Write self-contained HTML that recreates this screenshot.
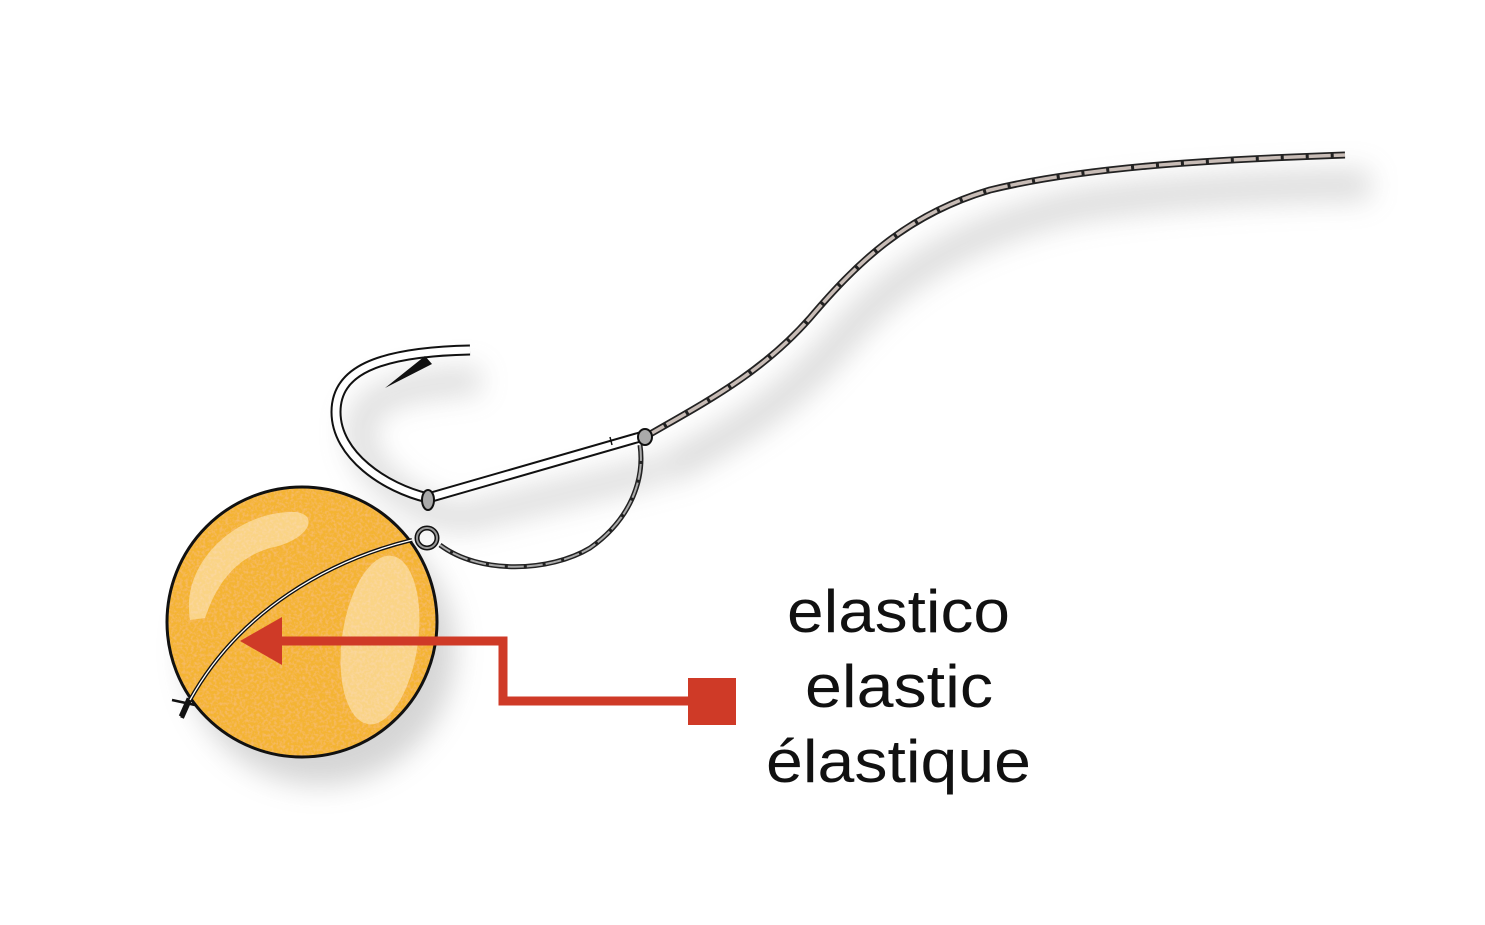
<!DOCTYPE html>
<html><head><meta charset="utf-8"><style>
html,body{margin:0;padding:0;background:#fff;}
svg{display:block}
</style></head><body>
<svg width="1485" height="925" viewBox="0 0 1485 925" xmlns="http://www.w3.org/2000/svg">
<defs>
<filter id="blur" x="-50%" y="-50%" width="200%" height="200%"><feGaussianBlur stdDeviation="14"/></filter>
<filter id="noise" x="0" y="0" width="100%" height="100%">
<feTurbulence type="fractalNoise" baseFrequency="0.35" numOctaves="2" seed="3" result="n"/>
<feColorMatrix type="matrix" values="0 0 0 0 0.93  0 0 0 0 0.5  0 0 0 0 0.15  0 0 0 2.2 -0.9" in="n" result="c"/>
<feComposite in="c" in2="SourceGraphic" operator="in" result="m"/>
<feMerge><feMergeNode in="SourceGraphic"/><feMergeNode in="m"/></feMerge>
</filter>
<clipPath id="ball"><circle cx="302" cy="622" r="135"/></clipPath>
</defs>
<g filter="url(#blur)" opacity="0.35">
<path d="M665,470 C740,430 790,400 840,340 C890,280 960,230 1080,205 C1180,190 1300,185 1370,185" stroke="#999" stroke-width="30" fill="none"/>
<path d="M455,520 C400,500 360,470 360,430 C360,400 390,385 480,380" stroke="#999" stroke-width="26" fill="none"/>
<path d="M455,520 L660,470" stroke="#999" stroke-width="26" fill="none"/>
<circle cx="320" cy="650" r="135" fill="#888"/>
</g>
<path d="M645,437 C700,405 760,375 810,318 C855,265 905,215 990,190 C1080,168 1200,160 1345,155" stroke="#222" stroke-width="7" fill="none"/>
<path d="M645,437 C700,405 760,375 810,318 C855,265 905,215 990,190 C1080,168 1200,160 1345,155" stroke="#c8bcb6" stroke-width="3.5" fill="none" stroke-dasharray="22 3"/>
<path d="M640,445 C645,480 630,520 590,548 C550,572 480,575 440,545" stroke="#222" stroke-width="5" fill="none"/>
<path d="M640,445 C645,480 630,520 590,548 C550,572 480,575 440,545" stroke="#aaa" stroke-width="2" fill="none" stroke-dasharray="16 3"/>
<path d="M640,437 L428,498 C385,488 336,455 336,412 C336,372 375,352 470,350" stroke="#111" stroke-width="11" fill="none" stroke-linejoin="round"/>
<path d="M640,437 L428,498 C385,488 336,455 336,412 C336,372 375,352 470,350" stroke="#fff" stroke-width="7" fill="none" stroke-linejoin="round"/>
<path d="M425,356 L385,388 L432,364 Z" fill="#111"/>
<line x1="612" y1="445" x2="610" y2="437" stroke="#111" stroke-width="1.5"/>
<ellipse cx="428" cy="500" rx="6" ry="10" fill="#aaa" stroke="#111" stroke-width="2"/>
<ellipse cx="645" cy="437" rx="7" ry="8" fill="#aaa" stroke="#111" stroke-width="2"/>
<circle cx="302" cy="622" r="135" fill="#f4b431" filter="url(#noise)"/>
<g clip-path="url(#ball)" opacity="0.5" fill="#fff3d8">
<path d="M190,620 C180,560 240,510 295,512 C320,514 310,540 270,548 C230,560 215,590 205,618 Z"/>
<ellipse cx="380" cy="640" rx="38" ry="85" transform="rotate(8 380 640)"/>
</g>
<circle cx="302" cy="622" r="135" fill="none" stroke="#111" stroke-width="3"/>
<path d="M412,540 C330,560 240,610 190,700 L182,718" stroke="#111" stroke-width="4" fill="none"/>
<path d="M412,540 C330,560 240,610 190,700" stroke="#fff" stroke-width="1.3" fill="none"/>
<path d="M172,700 L195,705 M188,698 L180,716" stroke="#111" stroke-width="2.5" fill="none"/>
<circle cx="427" cy="538" r="10" fill="none" stroke="#111" stroke-width="5"/>
<circle cx="427" cy="538" r="10" fill="none" stroke="#999" stroke-width="2"/>
<path d="M278,641 L503,641 L503,701 L692,701" stroke="#cf3a27" stroke-width="9" fill="none"/>
<path d="M240,641 L282,617 L282,665 Z" fill="#cf3a27"/>
<rect x="688" y="678" width="48" height="47" fill="#cf3a27"/>
<g font-family="Liberation Sans, sans-serif" font-size="60" fill="#111">
<text x="787" y="632" textLength="223" lengthAdjust="spacingAndGlyphs">elastico</text>
<text x="805" y="707" textLength="188" lengthAdjust="spacingAndGlyphs">elastic</text>
<text x="766" y="782" textLength="265" lengthAdjust="spacingAndGlyphs">élastique</text>
</g>
</svg>
</body></html>
